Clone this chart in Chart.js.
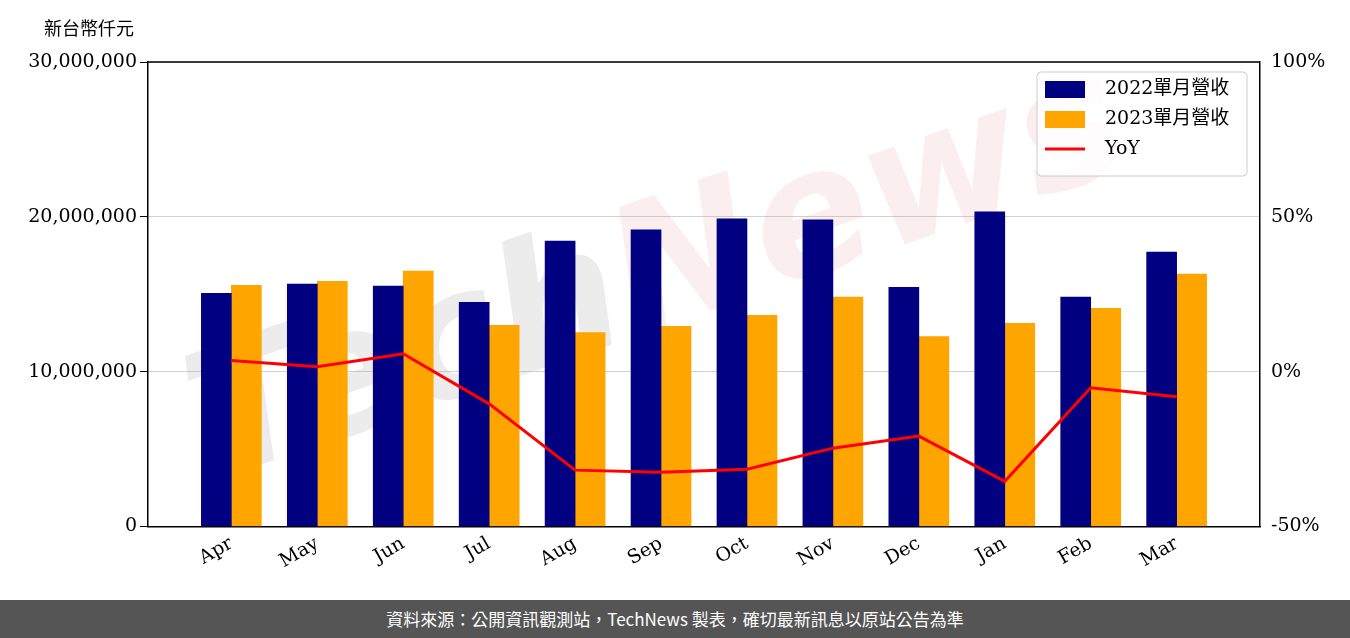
<!DOCTYPE html>
<html><head><meta charset="utf-8">
<script src="https://cdn.jsdelivr.net/npm/chart.js@4"></script>
<style>
body{margin:0;width:1350px;height:638px;background:#fff;overflow:hidden;font-family:"Noto Sans CJK TC",sans-serif}
#wrap{position:relative;width:1350px;height:600px}
#unit{position:absolute;left:44px;top:14px;font-size:18px;color:#000}
#foot{position:absolute;left:0;top:600px;width:1350px;height:38px;background:#555;color:#fff;font-size:17px;text-align:center;line-height:38px}
</style></head><body>
<div id="wrap"><canvas id="c" width="1350" height="600"></canvas><div id="unit">新台幣仟元</div></div>
<div id="foot">資料來源：公開資訊觀測站，TechNews 製表，確切最新訊息以原站公告為準</div>
<script>
const months = ['Apr','May','Jun','Jul','Aug','Sep','Oct','Nov','Dec','Jan','Feb','Mar'];
const rev2022 = [15060000,15650000,15520000,14480000,18440000,19160000,19870000,19810000,15450000,20320000,14810000,17730000];
const rev2023 = [15580000,15840000,16490000,12990000,12530000,12920000,13640000,14810000,12270000,13120000,14090000,16300000];
const yoy = [3.6,1.6,5.8,-10.4,-31.8,-32.5,-31.5,-24.7,-20.8,-35.4,-5.2,-8.1];

const pts = arr => arr.map((v,i)=>({x:i, y:v}));

const watermark = {
  id:'wm',
  beforeDatasetsDraw(chart){
    const c = chart.ctx;
    c.save();
    c.translate(660,280);
    c.rotate(-0.33);
    c.font = 'bold italic 175px "DejaVu Sans"';
    c.textBaseline = 'middle';
    const w1 = c.measureText('Tech').width, w2 = c.measureText('News').width;
    c.fillStyle = 'rgba(170,170,170,0.22)';
    c.fillText('Tech', -(w1+w2)/2, 0);
    c.fillStyle = 'rgba(230,140,140,0.15)';
    c.fillText('News', -(w1+w2)/2 + w1, 0);
    c.restore();
  }
};

const serif = {family:'"DejaVu Serif"', size:19};
new Chart(document.getElementById('c'), {
  data:{
    datasets:[
      {type:'line', label:'YoY', data:pts(yoy), yAxisID:'y1', borderColor:'#ff0000', backgroundColor:'#ff0000', borderWidth:3, pointRadius:0, tension:0, order:0},
      {type:'bar', label:'2022單月營收', data:pts(rev2022), yAxisID:'y', backgroundColor:'#000080', barThickness:30, grouped:true, order:1},
      {type:'bar', label:'2023單月營收', data:pts(rev2023), yAxisID:'y', backgroundColor:'#ffa500', barThickness:30, grouped:true, order:1}
    ]
  },
  options:{
    responsive:false, animation:false,
    layout:{padding:{left:20,right:14,top:62,bottom:27}},
    plugins:{
      legend:{display:false},
      tooltip:{enabled:false}
    },
    scales:{
      x:{
        type:'linear', min:-0.97, max:11.97, offset:false,
        afterBuildTicks: s => { s.ticks = months.map((m,i)=>({value:i})); },
        grid:{display:false, drawTicks:true, tickLength:6},
        border:{color:'#000', width:1.5},
        ticks:{color:'#000', font:serif, maxRotation:30, minRotation:30, padding:0, autoSkip:false, callback:v=>months[v]}
      },
      y:{
        min:0, max:30000000,
        afterFit: s => { s.width = 128; },
        ticks:{stepSize:10000000, color:'#000', font:serif, callback:v=>v.toLocaleString('en-US')},
        grid:{color:'#d0d0d0', tickColor:'#000', tickLength:8},
        border:{color:'#000', width:1.5}
      },
      y1:{
        position:'right', min:-50, max:100,
        afterFit: s => { s.width = 76; },
        ticks:{stepSize:50, color:'#000', font:serif, callback:v=>v+'%'},
        grid:{display:false, drawOnChartArea:false, tickColor:'#000', tickLength:8},
        border:{color:'#000', width:1.5}
      }
    }
  },
  plugins:[watermark, {
    id:'legendBox',
    afterDraw(chart){
      const c = chart.ctx, a = chart.chartArea;
      c.save();
      c.strokeStyle = '#000'; c.lineWidth = 1.5;
      c.beginPath(); c.moveTo(a.left,a.top); c.lineTo(a.right,a.top); c.stroke();
      const w = 210, h = 104, x = a.right - w - 13, y = a.top + 10;
      c.fillStyle = 'rgba(255,255,255,0.8)';
      c.strokeStyle = '#ccc'; c.lineWidth = 1;
      c.beginPath(); c.roundRect(x,y,w,h,4); c.fill(); c.stroke();
      c.font = '19px "DejaVu Serif", "Noto Sans CJK TC"';
      c.textBaseline = 'middle';
      const items = chart.data.datasets;
      [1,2,0].forEach((di,i)=>{
        const ds = items[di], cy = y + 17 + i*30;
        if (ds.type==='bar'){ c.fillStyle = ds.backgroundColor; c.fillRect(x+8,cy-8,40,17); }
        else { c.strokeStyle = ds.borderColor; c.lineWidth = 3; c.beginPath(); c.moveTo(x+8,cy); c.lineTo(x+48,cy); c.stroke(); }
        c.fillStyle = '#000';
        c.fillText(ds.label, x+68, cy);
      });
      c.restore();
    }
  }]
});
</script>
</body></html>
